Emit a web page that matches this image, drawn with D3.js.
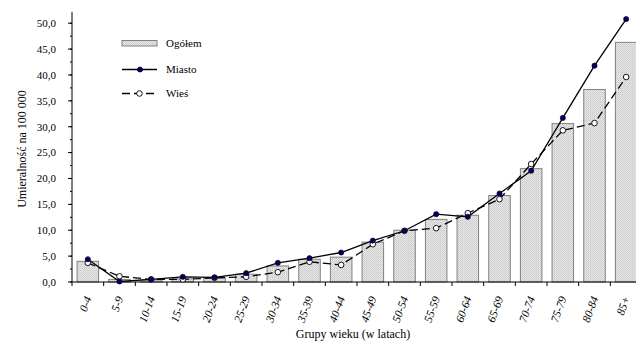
<!DOCTYPE html>
<html><head><meta charset="utf-8">
<script src="https://cdn.jsdelivr.net/npm/d3@7"></script>
<style>body{margin:0;background:#fff}svg{display:block}</style>
</head><body><svg id="c" width="636" height="341" font-family="'Liberation Serif', 'Times New Roman', serif"></svg>
<script>
const categories=["0-4","5-9","10-14","15-19","20-24","25-29","30-34","35-39","40-44","45-49","50-54","55-59","60-64","65-69","70-74","75-79","80-84","85+"];
const ogolem=[4.0,0.5,0.4,0.6,0.8,1.5,3.1,4.4,4.8,7.7,10.0,12.1,12.9,16.7,21.9,30.6,37.2,46.3];
const miasto=[4.4,0.1,0.5,1.0,0.9,1.7,3.7,4.6,5.7,8.0,9.9,13.1,12.6,17.1,21.5,31.7,41.8,50.8];
const wies=[3.7,1.1,0.5,0.5,0.8,1.0,1.9,3.9,3.3,7.3,9.9,10.4,13.3,16.0,22.8,29.3,30.7,39.6];
const yTicks=[0,5,10,15,20,25,30,35,40,45,50];
const FF="'Liberation Serif', 'Times New Roman', serif";
const svg=d3.select("#c");
const defs=svg.append("defs");
const pat=defs.append("pattern").attr("id","dots").attr("width",2).attr("height",2).attr("patternUnits","userSpaceOnUse");
pat.append("rect").attr("width",2).attr("height",2).attr("fill","#e6e6e6");
pat.append("rect").attr("width",1).attr("height",1).attr("fill","#c8c8c8");
pat.append("rect").attr("x",1).attr("y",1).attr("width",1).attr("height",1).attr("fill","#d4d4d4");
const x0=72, x1=642, yb=282, yt=23.2;
const x=d3.scaleBand().domain(categories).range([x0,x1]).padding(0);
const y=d3.scaleLinear().domain([0,50]).range([yb,yt]);
const bw=x.bandwidth()*0.68;
const cx=d=>x(d)+x.bandwidth()/2;
// bars
svg.append("g").selectAll("rect").data(categories).join("rect")
 .attr("x",d=>cx(d)-bw/2).attr("y",(d,i)=>y(ogolem[i]))
 .attr("width",bw).attr("height",(d,i)=>yb-y(ogolem[i]))
 .attr("fill","url(#dots)").attr("stroke","#808080").attr("stroke-width",1);
// y axis
const ya=svg.append("g").attr("transform",`translate(${x0},0)`);
ya.append("line").attr("x1",0).attr("x2",0).attr("y1",y(0)).attr("y2",y(52.2)).attr("stroke","#000");
const minor=d3.range(0,51,2.5);
ya.selectAll("line.mn").data(minor).join("line").attr("class","mn").attr("x1",-2).attr("x2",0).attr("y1",d=>y(d)).attr("y2",d=>y(d)).attr("stroke","#000");
ya.selectAll("line.mj").data(yTicks).join("line").attr("class","mj").attr("x1",-4).attr("x2",0).attr("y1",d=>y(d)).attr("y2",d=>y(d)).attr("stroke","#000");
ya.selectAll("text").data(yTicks).join("text").attr("x",-16).attr("y",d=>y(d)+3.8).attr("text-anchor","end").attr("font-size",11).attr("font-family",FF)
 .text(d=>d.toFixed(1).replace(".",","));
// x axis
svg.append("line").attr("x1",x0).attr("x2",636).attr("y1",yb).attr("y2",yb).attr("stroke","#000").attr("stroke-width",1.2);
svg.append("g").selectAll("line").data(categories).join("line")
 .attr("x1",d=>x(d)).attr("x2",d=>x(d)).attr("y1",yb).attr("y2",yb+4).attr("stroke","#000");
svg.append("g").selectAll("text").data(categories).join("text")
 .attr("transform",d=>`translate(${cx(d)+4},${yb+16}) rotate(-70)`)
 .attr("text-anchor","end").attr("font-size",11.5).attr("font-style","italic").attr("font-family",FF).text(d=>d);
// lines
const line=d3.line().x((d,i)=>cx(categories[i])).y(d=>y(d));
svg.append("path").datum(wies).attr("d",line).attr("fill","none").attr("stroke","#000").attr("stroke-width",1.3).attr("stroke-dasharray","8,4");
svg.append("path").datum(miasto).attr("d",line).attr("fill","none").attr("stroke","#000").attr("stroke-width",1.3);
svg.append("g").selectAll("circle").data(wies).join("circle").attr("cx",(d,i)=>cx(categories[i])).attr("cy",d=>y(d)).attr("r",2.8).attr("fill","#fff").attr("stroke","#000").attr("stroke-width",0.9);
svg.append("g").selectAll("circle").data(miasto).join("circle").attr("cx",(d,i)=>cx(categories[i])).attr("cy",d=>y(d)).attr("r",2.6).attr("fill","#000066").attr("stroke","#000").attr("stroke-width",0.6);
// titles
svg.append("text").attr("transform",`translate(26,149) rotate(-90)`).attr("text-anchor","middle").attr("font-size",12).attr("font-family",FF).text("Umieralność na 100 000");
svg.append("text").attr("x",353).attr("y",338).attr("text-anchor","middle").attr("font-size",12).attr("font-family",FF).text("Grupy wieku (w latach)");
// legend
const lg=svg.append("g");
lg.append("rect").attr("x",122).attr("y",40.5).attr("width",35).attr("height",5.5).attr("fill","url(#dots)").attr("stroke","#808080");
lg.append("text").attr("x",166).attr("y",47).attr("font-size",11).attr("font-family",FF).text("Ogółem");
lg.append("line").attr("x1",122).attr("x2",157).attr("y1",69.5).attr("y2",69.5).attr("stroke","#000").attr("stroke-width",1.3);
lg.append("circle").attr("cx",140).attr("cy",69.5).attr("r",2.6).attr("fill","#000066").attr("stroke","#000").attr("stroke-width",0.6);
lg.append("text").attr("x",166).attr("y",73).attr("font-size",11).attr("font-family",FF).text("Miasto");
lg.append("line").attr("x1",122).attr("x2",157).attr("y1",93.5).attr("y2",93.5).attr("stroke","#000").attr("stroke-width",1.3).attr("stroke-dasharray","8,4");
lg.append("circle").attr("cx",139.5).attr("cy",93.5).attr("r",2.8).attr("fill","#fff").attr("stroke","#000").attr("stroke-width",0.9);
lg.append("text").attr("x",166).attr("y",97).attr("font-size",11).attr("font-family",FF).text("Wieś");
</script></body></html>
